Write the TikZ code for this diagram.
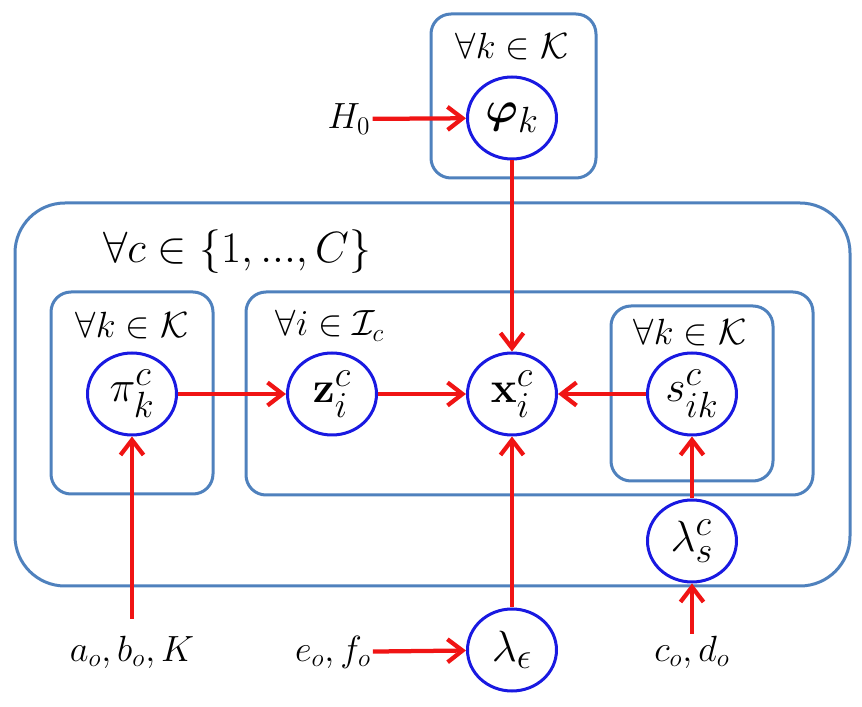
\documentclass[tikz,border=0pt]{standalone}
\usepackage{amsmath,amssymb,bm}
\usepackage{tikz}
\usetikzlibrary{arrows.meta,positioning,shapes.geometric}
\definecolor{platebl}{RGB}{79,129,189}
\definecolor{nodebl}{RGB}{25,25,225}
\definecolor{edgered}{RGB}{240,20,20}
\tikzset{
  plate/.style={draw=platebl, line width=0.6mm},
  platelbl/.style={font=\huge, inner sep=1pt},
  rv/.style={ellipse, draw=nodebl, line width=0.6mm, fill=white,
             minimum width=17.8mm, minimum height=16.4mm, inner sep=0pt, font=\Huge},
  hyp/.style={font=\huge, inner sep=1pt},
  deparr/.style={-{Straight Barb[length=3mm,width=4.6mm]}, edgered, line width=0.85mm},
}

\begin{document}
\begin{tikzpicture}[x=0.2mm, y=-0.2mm]
  \useasboundingbox (0,0) rectangle (862,707);

  % plates
  \draw[plate, rounded corners=4mm] (431,14) rectangle (596,178);
  \draw[plate, rounded corners=10mm] (15,203) rectangle (850,586);
  \draw[plate, rounded corners=4mm] (51,292) rectangle (213,494);
  \draw[plate, rounded corners=4mm] (246,292) rectangle (813,495);
  \draw[plate, rounded corners=4mm] (611,306) rectangle (773,481);

  \node[platelbl] (lk0) at (512,47) {$\forall k \in \mathcal{K}$};
  \node[platelbl, font=\fontsize{23}{28}\selectfont] (lc) at (237,252) {$\forall c \in \{1, ..., C\}$};
  \node[platelbl] (lk1) at (132,326) {$\forall k \in \mathcal{K}$};
  \node[platelbl] (li) at (330,326) {$\forall i \in \mathcal{I}_c$};
  \node[platelbl] (lk2) at (690,333) {$\forall k \in \mathcal{K}$};

  % variables
  \node[rv] (phi) at (512,118) {$\bm{\varphi}_k$};
  \node[rv] (pi) at (132,394) {$\pi_k^c$};
  \node[rv] (z) at (332,394) {$\mathbf{z}_i^c$};
  \node[rv] (x) at (512,394) {$\mathbf{x}_i^c$};
  \node[rv] (s) at (692,394) {$s_{ik}^c$};
  \node[rv] (lams) at (692,541) {$\lambda_s^c$};
  \node[rv] (lame) at (512,650) {$\lambda_\epsilon$};

  % hyperparameters
  \node[hyp] (h0) at (349,119) {$H_0$};
  \node[hyp] (abk) at (132,652) {$a_o, b_o, K$};
  \node[hyp] (ef) at (333,652) {$e_o, f_o$};
  \node[hyp] (cd) at (692,652) {$c_o, d_o$};

  % dependencies
  \draw[deparr] (h0) -- (phi);
  \draw[deparr] (phi) -- (x);
  \draw[deparr] (pi) -- (z);
  \draw[deparr] (z) -- (x);
  \draw[deparr] (s) -- (x);
  \draw[deparr] (lams) -- (s);
  \draw[deparr] (lame) -- (x);
  \draw[deparr] (ef) -- (lame);
  \draw[deparr, shorten <=3mm] (abk) -- (pi);
  \draw[deparr] (cd) -- (lams);
\end{tikzpicture}
\end{document}
